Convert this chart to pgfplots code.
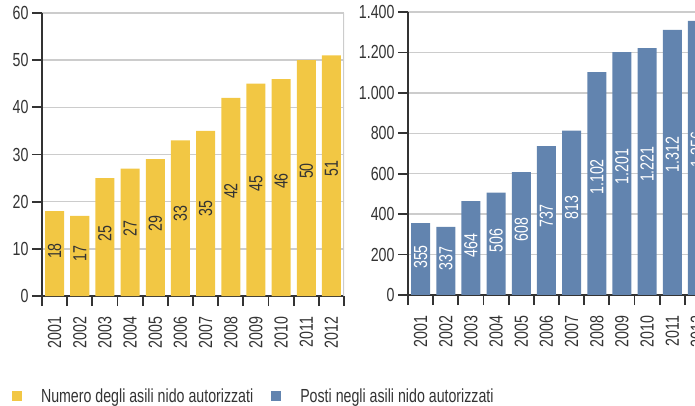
\documentclass[border=0pt]{standalone}
\usepackage{fontspec}
\setmainfont{Liberation Sans}[FakeStretch=0.75]
\usepackage{pgfplots}
\usepackage{pgfplotstable}
\pgfplotsset{compat=1.18}
\definecolor{giallo}{HTML}{F2C744}
\definecolor{blu}{HTML}{6284AF}
\definecolor{testo}{HTML}{333333}
\definecolor{griglia}{HTML}{CCCCCC}

\pgfplotstableread{
x y
1 18
2 17
3 25
4 27
5 29
6 33
7 35
8 42
9 45
10 46
11 50
12 51
}\asili

\pgfplotstableread{
x y
1 355
2 337
3 464
4 506
5 608
6 737
7 813
8 1102
9 1201
10 1221
11 1312
12 1356
}\posti

\pgfplotsset{barre/.style={
  scale only axis, width=302bp, height=283bp,
  xmin=0.5, xmax=12.5, ymin=0,
  axis x line*=bottom, axis y line*=left,
  axis line style={-, testo, line width=2bp},
  xtick={1,...,12},
  xticklabels={2001,2002,2003,2004,2005,2006,2007,2008,2009,2010,2011,2012},
  major x tick style={draw=none},
  minor xtick={0.5,1.5,...,12.5},
  tick align=outside, major tick length=10bp, minor tick length=10bp,
  tick style={testo, line width=1.8bp},
  ymajorgrids, grid style={griglia, line width=1.5bp},
  font=\fontsize{19}{22}\selectfont,
  tick label style={text=testo},
  xticklabel style={rotate=90, anchor=east},
  xticklabel shift=7bp,
  /pgf/number format/assume math mode=true,
  /pgf/number format/1000 sep={.},
}}

\begin{document}
\begin{tikzpicture}
\begin{axis}[barre, ymax=60, ytick={0,10,...,60},
  legend columns=2,
  legend image code/.code={\fill[#1] (0bp,-5bp) rectangle (10bp,5bp);},
  legend style={at={(axis description cs:-0.0993,-0.353)}, anchor=west,
    draw=none, fill=none, inner sep=0pt, outer sep=0pt,
    nodes={inner sep=0pt, text=testo},
    /tikz/every odd column/.append style={column sep=19bp},
    /tikz/every even column/.append style={column sep=18bp}}]
\addplot[ybar, bar width=0.755, fill=giallo, draw=none, forget plot] table[x=x, y=y]{\asili};
% etichette a circa metà barra
\addplot[draw=none, mark=none, forget plot, nodes near coords, point meta=\thisrow{y},
  every node near coord/.append style={rotate=90, anchor=center, text=testo}]
  table[x=x, y expr=\thisrow{y}*0.53]{\asili};
\draw[griglia, line width=1.5bp] (rel axis cs:1,0) -- (rel axis cs:1,1);
\addlegendimage{fill=giallo, draw=none}
\addlegendentry{Numero degli asili nido autorizzati}
\addlegendimage{fill=blu, draw=none}
\addlegendentry{Posti negli asili nido autorizzati}
\end{axis}

\begin{axis}[barre, at={(366bp,1bp)}, ymax=1400, ytick={0,200,...,1400}]
\addplot[ybar, bar width=0.755, fill=blu, draw=none, forget plot] table[x=x, y=y]{\posti};
\addplot[draw=none, mark=none, forget plot, nodes near coords, point meta=\thisrow{y},
  every node near coord/.append style={rotate=90, anchor=center, text=white}]
  table[x=x, y expr=\thisrow{y}*0.53]{\posti};
\end{axis}
\pgfresetboundingbox
\useasboundingbox (-42bp,-110bp) rectangle (653bp,296bp);
\end{tikzpicture}
\end{document}
